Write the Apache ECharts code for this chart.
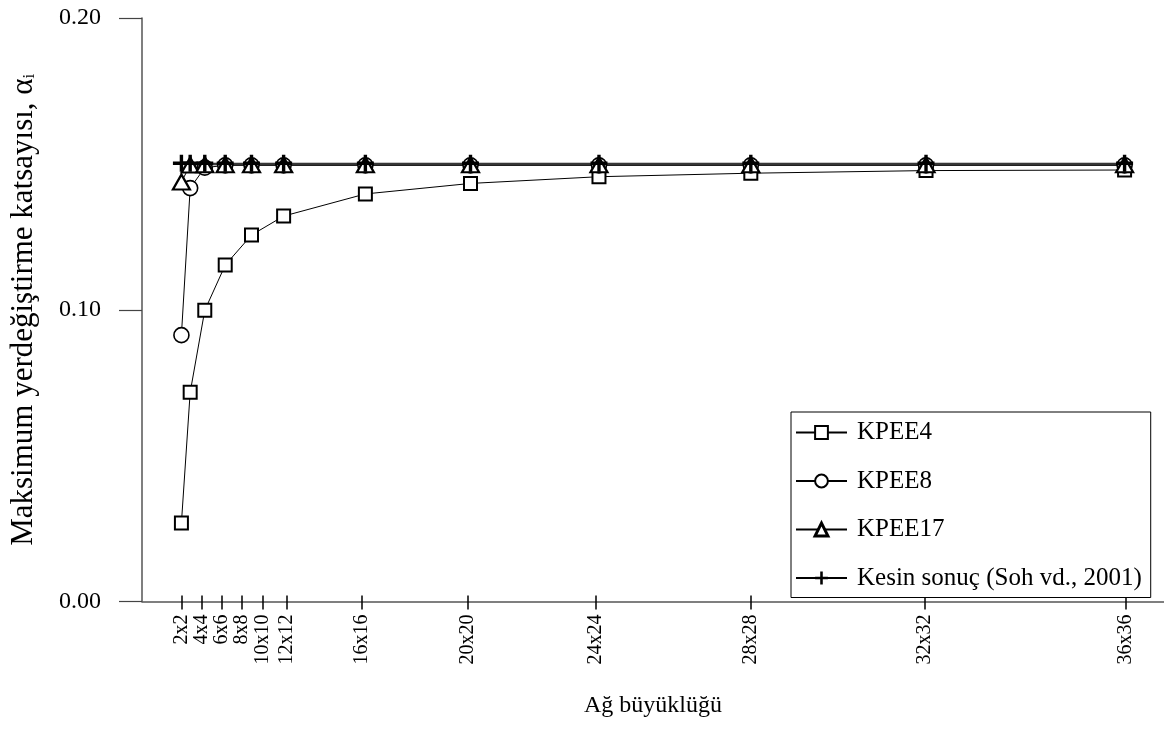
<!DOCTYPE html>
<html>
<head>
<meta charset="utf-8">
<script src="https://cdn.jsdelivr.net/npm/echarts@6/dist/echarts.min.js"></script>
<style>
  html, body { margin: 0; padding: 0; background: #fff; }
  #chart { width: 1164px; height: 749px; }
</style>
</head>
<body>
<div id="chart"></div>
<script>
// Mesh sizes and their element counts (n x n -> n^2), used as x coordinates
const meshLabels = ['2x2', '4x4', '6x6', '8x8', '10x10', '12x12', '16x16', '20x20', '24x24', '28x28', '32x32', '36x36'];
const elementCounts = [4, 16, 36, 64, 100, 144, 256, 400, 576, 784, 1024, 1296];
// Tick label positions along the axis (small meshes spread apart for legibility)
const tickValues = [4, 32, 59, 87, 116, 148, 251, 396, 572, 784, 1022, 1298];

// Maximum displacement coefficient per element type
const kpee4 = [0.0269, 0.0717, 0.0998, 0.1153, 0.1256, 0.1321, 0.1397, 0.1433, 0.1456, 0.1468, 0.1477, 0.1479];
const kpee8 = [0.0913, 0.1417, 0.1487, 0.1495, 0.1495, 0.1495, 0.1495, 0.1495, 0.1495, 0.1495, 0.1495, 0.1495];
const kpee17 = [0.1438, 0.1496, 0.1497, 0.1497, 0.1497, 0.1497, 0.1497, 0.1497, 0.1497, 0.1497, 0.1497, 0.1497];
const exact = [0.1502, 0.1502, 0.1502, 0.1502, 0.1502, 0.1502, 0.1502, 0.1502, 0.1502, 0.1502, 0.1502, 0.1502];

const FONT = "'Liberation Serif', 'Times New Roman', serif";
const pairs = ys => elementCounts.map((x, i) => [x, ys[i]]);
const plusPath = 'path://M4,0H6V4H10V6H6V10H4V6H0V4H4Z';

function lineSeries(name, ys, symbol, size, borderWidth, z) {
  return {
    name: name,
    type: 'line',
    data: pairs(ys),
    symbol: symbol,
    symbolSize: size,
    showAllSymbol: true,
    z: z,
    lineStyle: { color: '#000', width: 1 },
    itemStyle: symbol === plusPath
      ? { color: '#000', borderWidth: 0 }
      : { color: '#fff', borderColor: '#000', borderWidth: borderWidth },
    emphasis: { disabled: true },
    animation: false
  };
}

const chart = echarts.init(document.getElementById('chart'), null, { renderer: 'canvas' });
chart.setOption({
  backgroundColor: '#fff',
  animation: false,
  grid: { left: 141, right: 0, top: 18, bottom: 147.5, containLabel: false },
  legend: {
    left: 791,
    top: 412,
    orient: 'vertical',
    padding: [8, 9, 7, 4],
    itemWidth: 51,
    itemHeight: 16,
    itemGap: 23.5,
    borderColor: '#000',
    borderWidth: 1,
    backgroundColor: '#fff',
    textStyle: { fontFamily: FONT, fontSize: 25, color: '#000', padding: [0, 0, 0, 5] },
    data: [
      'KPEE4',
      'KPEE8',
      { name: 'KPEE17', itemStyle: { borderWidth: 3 } },
      'Kesin sonuç (Soh vd., 2001)'
    ]
  },
  xAxis: [
    {
      type: 'value',
      min: -50,
      max: 1350,
      name: 'Ağ büyüklüğü',
      nameLocation: 'middle',
      nameGap: 92,
      nameTextStyle: { fontFamily: FONT, fontSize: 24, color: '#000', verticalAlign: 'top' },
      axisLine: { onZero: false, lineStyle: { color: '#555', width: 1.5 } },
      axisTick: { show: true, inside: false, length: 8, lineStyle: { color: '#000', width: 1.5 }, customValues: tickValues },
      axisLabel: {
        customValues: tickValues,
        rotate: 90,
        margin: 13,
        fontFamily: FONT,
        fontSize: 20,
        color: '#000',
        formatter: v => meshLabels[tickValues.indexOf(v)] || ''
      },
      splitLine: { show: false }
    },
    {
      type: 'value',
      position: 'bottom',
      min: -50,
      max: 1350,
      axisLine: { show: false, onZero: false },
      axisTick: { show: true, inside: true, length: 6, lineStyle: { color: '#000', width: 1.5 }, customValues: tickValues },
      axisLabel: { show: false },
      splitLine: { show: false }
    }
  ],
  yAxis: {
    type: 'value',
    min: 0,
    max: 0.2,
    interval: 0.1,
    name: '{a|Maksimum yerdeğiştirme katsayısı, α}{s|i}',
    nameLocation: 'middle',
    nameRotate: 90,
    nameGap: 103,
    nameTextStyle: {
      fontFamily: FONT,
      fontSize: 31,
      color: '#000',
      rich: {
        a: { fontFamily: FONT, fontSize: 31, color: '#000' },
        s: { fontFamily: FONT, fontSize: 17, color: '#000', padding: [12, 0, 0, 0] }
      }
    },
    axisLine: { show: true, onZero: false, lineStyle: { color: '#555', width: 1.5 } },
    axisTick: { show: true, inside: false, length: 23, lineStyle: { color: '#444', width: 1.2 } },
    axisLabel: {
      margin: 41,
      fontFamily: FONT,
      fontSize: 24,
      color: '#000',
      formatter: v => v.toFixed(2)
    },
    splitLine: { show: false }
  },
  series: [
    lineSeries('KPEE4', kpee4, 'rect', 13, 2, 3),
    lineSeries('KPEE8', kpee8, 'circle', 15, 1.6, 4),
    lineSeries('KPEE17', kpee17, 'triangle', [17, 15], 2.2, 5),
    lineSeries('Kesin sonuç (Soh vd., 2001)', exact, plusPath, 17, 0, 6)
  ]
});
</script>
</body>
</html>
